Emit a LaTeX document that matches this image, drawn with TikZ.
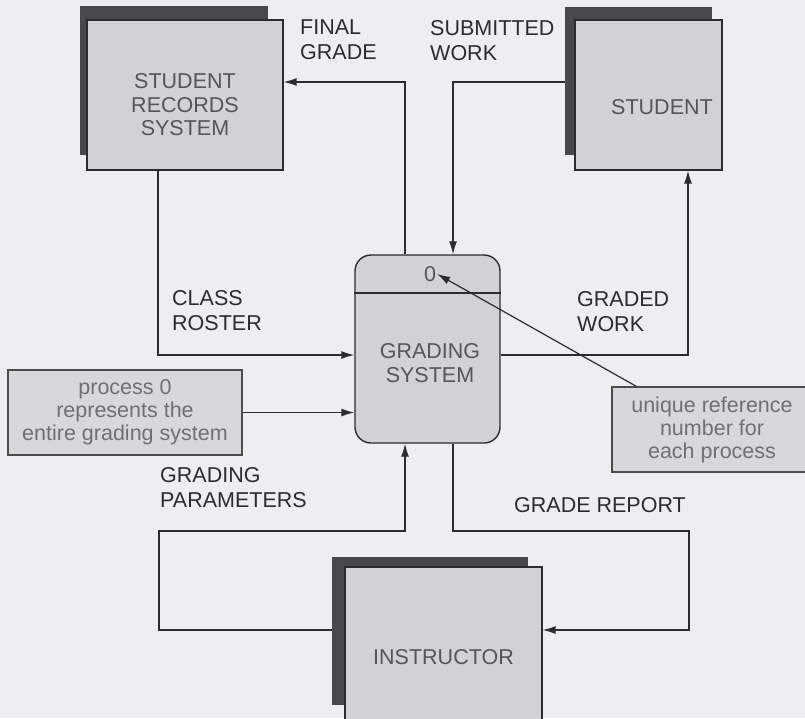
\documentclass[tikz,border=0pt]{standalone}
\usepackage{fontspec}
\setmainfont{Liberation Sans}
\usetikzlibrary{arrows.meta,calc}

\definecolor{bg}{HTML}{EEEEF1}
\definecolor{boxfill}{HTML}{D2D2D6}
\definecolor{notefill}{HTML}{D8D8DB}
\definecolor{shadowc}{HTML}{48484C}
\definecolor{ink}{HTML}{2C2C2E}
\definecolor{noteink}{HTML}{707074}

\tikzset{
  shade/.style={fill=shadowc, draw=none, inner sep=0pt, outer sep=0pt},
  entity/.style={fill=boxfill, draw=ink, line width=1.2pt, inner sep=0pt},
  proc/.style={fill=boxfill, draw=ink, line width=1.4pt, rounded corners=16pt, inner sep=0pt},
  boxtext/.style={font=\fontsize{21.5}{23.5}\selectfont, text=ink!80, align=center, inner sep=0pt},
  notebox/.style={fill=notefill, draw=ink!85, line width=1.2pt, inner sep=0pt,
    font=\fontsize{21.5}{23}\selectfont, text=noteink, align=center},
  flowlabel/.style={font=\fontsize{21.5}{25}\selectfont, text=ink, align=left,
    anchor=north west, inner sep=0pt},
  flow/.style={draw=ink, line width=1.3pt, -{Latex[length=13pt,width=8pt]}},
}

\begin{document}
\begin{tikzpicture}[x=1pt,y=-1pt]
  \fill[bg] (0,0) rectangle (805,718);
  \useasboundingbox (0,0) rectangle (805,718);

  % external entity: student records system
  \node[shade, minimum width=188, minimum height=149] (srsS) at (174,80.5) {};
  \node[entity, minimum width=196, minimum height=150] (srs) at (185,95) {};
  \node[boxtext] (srsT) at (185,105) {STUDENT\\RECORDS\\SYSTEM};

  % external entity: student
  \node[shade, minimum width=147, minimum height=148] (stS) at (638.5,81) {};
  \node[entity, minimum width=147, minimum height=150] (st) at (648.5,95) {};
  \node[boxtext] (stT) at (662,107) {STUDENT};

  % external entity: instructor
  \node[shade, minimum width=196, minimum height=148] (instS) at (430,631) {};
  \node[entity, minimum width=197, minimum height=180] (inst) at (443.5,657) {};
  \node[boxtext] (instT) at (443.5,657) {INSTRUCTOR};

  % process 0
  \node[proc, minimum width=145, minimum height=188] (gs) at (427.5,349) {};
  \draw[ink, line width=1.4pt] (gs.west |- 0,293) -- (gs.east |- 0,293);
  \node[boxtext, inner sep=1pt] (zero) at (430,274) {0};
  \node[boxtext] (gsT) at (430,363) {GRADING\\SYSTEM};

  % annotations
  \node[notebox, minimum width=234, minimum height=85] (pn) at (125,412.5)
    {process 0\\represents the\\entire grading system};
  \node[notebox, minimum width=200, minimum height=85] (ub) at (712,429.5)
    {unique reference\\number for\\each process};

  % bend points of the data flows
  \coordinate (fgBend) at (405,82);
  \coordinate (swBend) at (453,82);
  \coordinate (crBend) at (158,355);
  \coordinate (gwBend) at (688,355);
  \coordinate (gpA) at (159,630);
  \coordinate (gpB) at (159,531);
  \coordinate (gpC) at (405,531);
  \coordinate (grA) at (453,531);
  \coordinate (grB) at (689,531);
  \coordinate (grC) at (689,630);

  % data flows
  \draw[flow] (gs.north -| fgBend) -- (fgBend) -- (srs.east |- fgBend);
  \draw[flow] (stS.west |- swBend) -- (swBend) -- (gs.north -| swBend);
  \draw[flow] (srs.south -| crBend) -- (crBend) -- (gs.west |- crBend);
  \draw[flow] (gs.east |- gwBend) -- (gwBend) -- (st.south -| gwBend);
  \draw[flow] (pn.east) -- (gs.west |- pn.east);
  \draw[flow] (instS.west |- gpA) -- (gpA) -- (gpB) -- (gpC) -- (gs.south -| gpC);
  \draw[flow] (gs.south -| grA) -- (grA) -- (grB) -- (grC) -- (inst.east |- grC);
  \draw[flow, line width=1.2pt] ($(ub.north west)+(25,0)$) -- (zero.east);

  % flow labels
  \node[flowlabel] (lfg) at (300,20) {FINAL\\GRADE};
  \node[flowlabel] (lsw) at (430,20) {SUBMITTED\\WORK};
  \node[flowlabel] (lcr) at (172,290) {CLASS\\ROSTER};
  \node[flowlabel] (lgw) at (577,291) {GRADED\\WORK};
  \node[flowlabel] (lgp) at (160,467) {GRADING\\PARAMETERS};
  \node[flowlabel] (lgr) at (514,497) {GRADE REPORT};
\end{tikzpicture}
\end{document}
